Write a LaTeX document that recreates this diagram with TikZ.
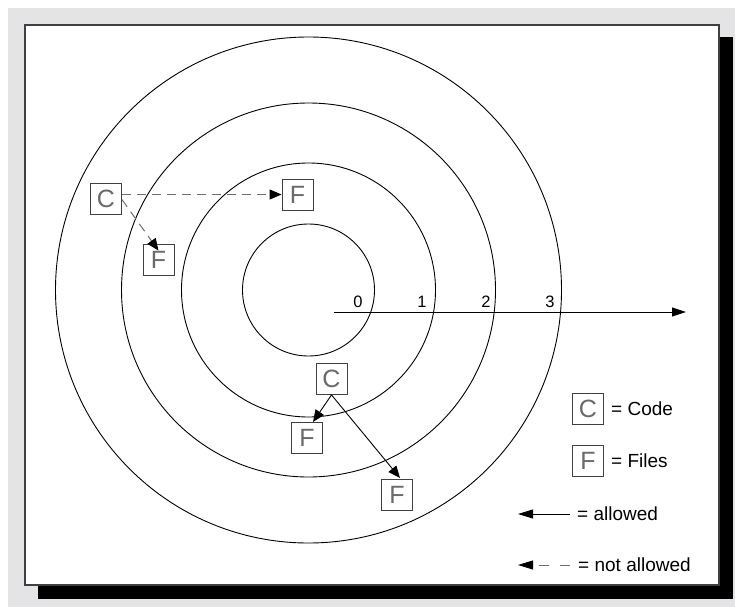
\documentclass[tikz,border=0pt]{standalone}
\usepackage{fontspec}
\setmainfont{Liberation Sans}
\usetikzlibrary{arrows.meta}
\definecolor{bggray}{HTML}{E4E4E6}
\definecolor{framec}{HTML}{404040}
\definecolor{lettergray}{HTML}{6A6A6A}
\definecolor{dashgray}{HTML}{6E6E6E}
\begin{document}
\begin{tikzpicture}[x=1pt,y=-1pt,
  box/.style={draw=black!75, line width=0.8pt, minimum width=31pt, minimum height=31pt, inner sep=0pt,
    text=lettergray, font=\fontsize{25}{25}\selectfont},
  ring/.style={line width=0.9pt},
  okarrow/.style={line width=0.9pt, -{Triangle[length=12pt,width=10pt]}},
  noarrow/.style={line width=1pt, draw=dashgray, dash pattern=on 9pt off 6pt, -{Triangle[length=12pt,width=10pt,color=black]}},
  numlabel/.style={font=\fontsize{16.5}{16.5}\selectfont, inner sep=0pt},
  legtext/.style={font=\fontsize{19}{19}\selectfont, anchor=west, inner sep=0pt}]
\useasboundingbox (0,0) rectangle (735,607);
\fill[white] (0,0) rectangle (735,607);
\fill[bggray] (8,8) rectangle (735,607);
\fill[black] (38,37) rectangle (733,599);
\filldraw[fill=white, draw=framec, line width=1.2pt] (25,25) rectangle (719,585);
% rings
\coordinate (ctr) at (308.5,290);
\draw[ring] (ctr) circle (66);
\draw[ring] (ctr) circle (127);
\draw[ring] (ctr) circle (187);
\draw[ring] (ctr) circle (253);
% axis
\coordinate (axs) at (334,312);
\coordinate (axe) at (686,312);
\draw[line width=0.9pt, -{Triangle[length=14pt,width=9pt]}] (axs) -- (axe);
\node[numlabel] (l0) at (358,302) {0};
\node[numlabel] (l1) at (422,302) {1};
\node[numlabel] (l2) at (486,302) {2};
\node[numlabel] (l3) at (550,302) {3};
% upper-left group
\node[box] (c1) at (106,198.5) {C};
\node[box] (f1) at (297.5,194.5) {F};
\node[box] (f2) at (158.5,259.5) {F};
\draw[noarrow] (c1.east |- f1.west) -- (f1.west);
\coordinate (c1d) at ([yshift=-1pt]c1.east);
\coordinate (f2t) at ([yshift=-7pt]f2.north);
\draw[noarrow] (c1d) -- (f2t);
% lower group
\node[box] (c2) at (331.5,379) {C};
\node[box] (f3) at (307,438) {F};
\node[box] (f4) at (397,494.5) {F};
\coordinate (f3t) at (313,422);
\coordinate (f4t) at (400,478);
\draw[okarrow] (c2.south) -- (f3t);
\draw[okarrow] (c2.south) -- (f4t);
% legend
\node[box] (lc) at (588,409) {C};
\node[legtext] (lct) at (611,409) {= Code};
\node[box] (lf) at (588,461) {F};
\node[legtext] (lft) at (611,461) {= Files};
\coordinate (la1) at (570,514);
\coordinate (la2) at (518,514);
\draw[line width=0.9pt, -{Triangle[length=15pt,width=9pt]}] (la1) -- (la2);
\node[legtext] (lat) at (577,514) {= allowed};
\coordinate (ln1) at (570,565);
\coordinate (ln2) at (518,565);
\draw[line width=1pt, draw=dashgray, dash pattern=on 10pt off 11pt, -{Triangle[length=15pt,width=9pt,color=black]}] (ln1) -- (ln2);
\node[legtext] (lnt) at (578,565) {= not allowed};
\end{tikzpicture}
\end{document}
